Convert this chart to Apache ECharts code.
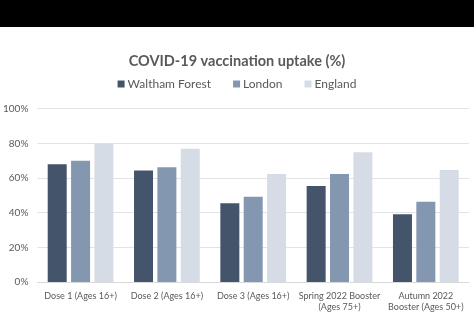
<!DOCTYPE html>
<html>
<head>
<meta charset="utf-8">
<script src="https://cdn.jsdelivr.net/npm/echarts@6/dist/echarts.min.js"></script>
<style>
  html, body { margin: 0; padding: 0; background: #fff; }
  #chart { width: 474px; height: 316px; }
</style>
</head>
<body>
<div id="chart"></div>
<script>
var categories = [
    'Dose 1 (Ages 16+)',
    'Dose 2 (Ages 16+)',
    'Dose 3 (Ages 16+)',
    'Spring 2022 Booster\n(Ages 75+)',
    'Autumn 2022\nBooster (Ages 50+)'
];
var walthamForest = [68, 64.4, 45.4, 55.4, 39.1];
var london = [70, 66.2, 49.2, 62.3, 46.3];
var england = [79.9, 76.9, 62.3, 74.8, 64.6];

var myChart = echarts.init(document.getElementById('chart'));
var textGrey = '#595959';
var font = 'Lato';

var option = {
    backgroundColor: '#fff',
    animation: false,
    graphic: [{
        type: 'rect',
        left: 0, top: 0,
        shape: { width: 474, height: 27 },
        style: { fill: '#000' }
    }],
    title: {
        text: 'COVID-19 vaccination uptake (%)',
        left: 'center',
        top: 49,
        textStyle: { fontFamily: font, fontSize: 14.5, fontWeight: 'bold', color: textGrey }
    },
    legend: {
        top: 73,
        left: 'center',
        itemWidth: 7,
        itemHeight: 7,
        itemGap: 22,
        icon: 'rect',
        textStyle: { fontFamily: font, fontSize: 12, color: textGrey, padding: [0, 0, 0, -2] }
    },
    grid: {
        left: 34,
        right: 5,
        top: 108.7,
        bottom: 34
    },
    xAxis: {
        type: 'category',
        data: categories,
        axisTick: { show: false },
        axisLine: { lineStyle: { color: '#d9d9d9' } },
        axisLabel: {
            fontFamily: font, fontSize: 9, color: textGrey,
            margin: 9, lineHeight: 11, interval: 0
        }
    },
    yAxis: {
        type: 'value',
        min: 0,
        max: 100,
        interval: 20,
        splitLine: { lineStyle: { color: '#e3e3e3' } },
        axisLabel: {
            formatter: '{value}%',
            fontFamily: font, fontSize: 10, color: textGrey, margin: 9
        },
        axisLine: { show: false }
    },
    series: [{
        name: 'Waltham Forest',
        type: 'bar',
        data: walthamForest,
        barWidth: 19,
        barGap: '23%',
        itemStyle: { color: '#44546a' }
    }, {
        name: 'London',
        type: 'bar',
        data: london,
        barWidth: 19,
        barGap: '23%',
        itemStyle: { color: '#8497b0' }
    }, {
        name: 'England',
        type: 'bar',
        data: england,
        barWidth: 19,
        barGap: '23%',
        itemStyle: { color: '#d6dce5' }
    }]
};
myChart.setOption(option);
</script>
</body>
</html>
